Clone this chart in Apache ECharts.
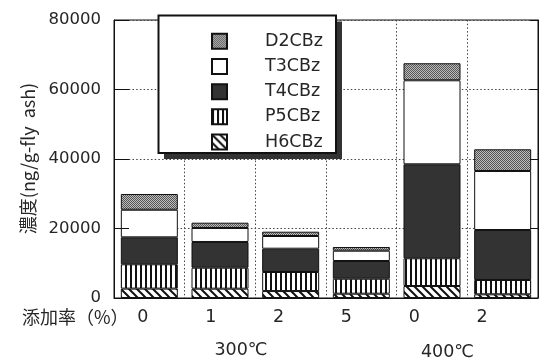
<!DOCTYPE html>
<html>
<head>
<meta charset="utf-8">
<script src="https://cdn.jsdelivr.net/npm/echarts@6/dist/echarts.min.js"></script>
<style>
html,body{margin:0;padding:0;background:#fff;}
#chart{width:546px;height:359px;}
</style>
</head>
<body>
<div id="chart"></div>
<script>
// ---- data ----
const categories = ['0', '1', '2', '5', '0', '2'];
const groupLabels = ['300℃', '400℃'];
const xTitle = '添加率（%）';
const yTitle = '濃度(ng/g-fly  ash)';
const seriesNames = ['H6CBz', 'P5CBz', 'T4CBz', 'T3CBz', 'D2CBz'];
const H6 = [2700, 2680, 2000, 1240, 3450, 1060];
const P5 = [7000, 6040, 5480, 4310, 7980, 4120];
const T4 = [7760, 7400, 6710, 5100, 27050, 14390];
const T3 = [7940, 4030, 3650, 2960, 24170, 16980];
const D2 = [4530, 1520, 1240, 1070, 4900, 6240];
const yMin = 0, yMax = 80000, yStep = 20000;

// ---- patterns ----
function makePattern(w, h, draw) {
  const c = document.createElement('canvas');
  c.width = w; c.height = h;
  const ctx = c.getContext('2d');
  draw(ctx, w, h);
  return c;
}
const hatchH6 = makePattern(8, 8, (ctx, w, h) => {
  ctx.fillStyle = '#fff'; ctx.fillRect(0, 0, w, h);
  ctx.strokeStyle = '#111'; ctx.lineWidth = 2;
  ctx.beginPath();
  ctx.moveTo(-2, -2); ctx.lineTo(w + 2, h + 2);
  ctx.moveTo(-2, h - 2); ctx.lineTo(2, h + 2);
  ctx.moveTo(w - 2, -2); ctx.lineTo(w + 2, 2);
  ctx.stroke();
});
const stripeP5 = makePattern(5, 5, (ctx, w, h) => {
  ctx.fillStyle = '#fff'; ctx.fillRect(0, 0, w, h);
  ctx.fillStyle = '#111'; ctx.fillRect(0, 0, 2, h);
});
const dotD2 = makePattern(2, 2, (ctx, w, h) => {
  ctx.fillStyle = '#bdbdbd'; ctx.fillRect(0, 0, w, h);
  ctx.fillStyle = '#555';
  ctx.fillRect(0, 0, 1, 1); ctx.fillRect(1, 1, 1, 1);
});
const fills = {
  H6CBz: { image: hatchH6, repeat: 'repeat' },
  P5CBz: { image: stripeP5, repeat: 'repeat' },
  T4CBz: '#333333',
  T3CBz: '#ffffff',
  D2CBz: { image: dotD2, repeat: 'repeat' }
};
const values = { H6CBz: H6, P5CBz: P5, T4CBz: T4, T3CBz: T3, D2CBz: D2 };

const FONT = "'DejaVu Sans', 'Noto Sans CJK JP', sans-serif";
const CJK = "'Noto Sans CJK JP', 'DejaVu Sans', sans-serif";
const TXT = '#262626';
const chart = echarts.init(document.getElementById('chart'), null, { renderer: 'canvas' });

const option = {
  backgroundColor: '#fff',
  animation: false,
  textStyle: { fontFamily: FONT, color: TXT },
  grid: [
    { left: 114, right: 8, top: 20, bottom: 61, show: true, borderColor: '#111', borderWidth: 1, backgroundColor: 'transparent' },
    { left: 109, right: 30, top: 20, bottom: 61, show: false }
  ],
  legend: {
    orient: 'vertical',
    left: 211, top: 32.5,
    padding: 0,
    itemWidth: 15, itemHeight: 15, itemGap: 7.7,
    selectedMode: false,
    icon: 'rect',
    z: 6,
    data: ['D2CBz', 'T3CBz', 'T4CBz', 'P5CBz', 'H6CBz'],
    textStyle: { fontFamily: FONT, fontSize: 17.5, color: TXT, lineHeight: 15, padding: [0, 0, 0, 33] }
  },
  xAxis: [
    {
      type: 'category', gridIndex: 0, data: categories,
      axisLine: { show: true, lineStyle: { color: '#111', width: 1 } },
      axisTick: { show: false },
      axisLabel: { show: false },
      splitLine: { show: true, lineStyle: { color: '#444', type: [1.5, 2.2], width: 1 } }
    },
    {
      type: 'category', gridIndex: 1, data: categories,
      axisLine: { show: false }, axisTick: { show: false },
      splitLine: { show: false },
      axisLabel: { show: true, interval: 0, margin: 10.5, fontSize: 17.5, color: TXT, fontFamily: FONT }
    }
  ],
  yAxis: [
    {
      type: 'value', gridIndex: 0, min: yMin, max: yMax, interval: yStep,
      axisLine: { show: true, lineStyle: { color: '#111', width: 1 } },
      axisTick: { show: false },
      axisLabel: { margin: 13, fontSize: 16.5, color: TXT, fontFamily: FONT, formatter: v => String(v) },
      splitLine: { show: true, lineStyle: { color: '#444', type: [1.5, 2.2], width: 1 } }
    },
    {
      type: 'value', gridIndex: 0, min: yMin, max: yMax, interval: yStep, position: 'left', z: 5,
      axisLine: { show: false }, axisLabel: { show: false }, splitLine: { show: false },
      axisTick: { show: true, inside: true, length: 15, lineStyle: { color: '#111', width: 1 } }
    },
    {
      type: 'value', gridIndex: 0, min: yMin, max: yMax, interval: yStep, position: 'right', z: 5,
      axisLine: { show: true, lineStyle: { color: '#111', width: 1 } }, axisLabel: { show: false }, splitLine: { show: false },
      axisTick: { show: true, inside: true, length: 8, lineStyle: { color: '#111', width: 1 } }
    },
    {
      type: 'value', gridIndex: 1, min: yMin, max: yMax, show: false
    }
  ],
  graphic: [
    { type: 'rect', z: 4, shape: { x: 164, y: 21.5, width: 178, height: 137.5 }, style: { fill: '#333' } },
    { type: 'rect', z: 5, shape: { x: 158.5, y: 15.5, width: 177.5, height: 137.5 }, style: { fill: '#fff', stroke: '#111', lineWidth: 2 } },
    { type: 'text', z: 5, x: 28, y: 158.5, rotation: Math.PI / 2, style: { text: yTitle, font: "18px " + CJK, fill: TXT, textAlign: 'center', textVerticalAlign: 'middle' } },
    { type: 'text', z: 5, x: 22, y: 317, style: { text: xTitle, font: "18px " + CJK, fill: TXT, textAlign: 'left', textVerticalAlign: 'middle' } },
    { type: 'text', z: 5, x: 241, y: 350, style: { text: groupLabels[0], font: "17.5px " + FONT, fill: TXT, textAlign: 'center', textVerticalAlign: 'middle' } },
    { type: 'text', z: 5, x: 447.5, y: 352, style: { text: groupLabels[1], font: "17.5px " + FONT, fill: TXT, textAlign: 'center', textVerticalAlign: 'middle' } }
  ],
  series: seriesNames.map(n => ({
    name: n, type: 'bar', stack: 'total', xAxisIndex: 0, yAxisIndex: 0,
    barWidth: 57,
    data: values[n],
    itemStyle: { color: fills[n], borderColor: '#111', borderWidth: 1 },
    emphasis: { disabled: true }
  }))
};
chart.setOption(option);
</script>
</body>
</html>
